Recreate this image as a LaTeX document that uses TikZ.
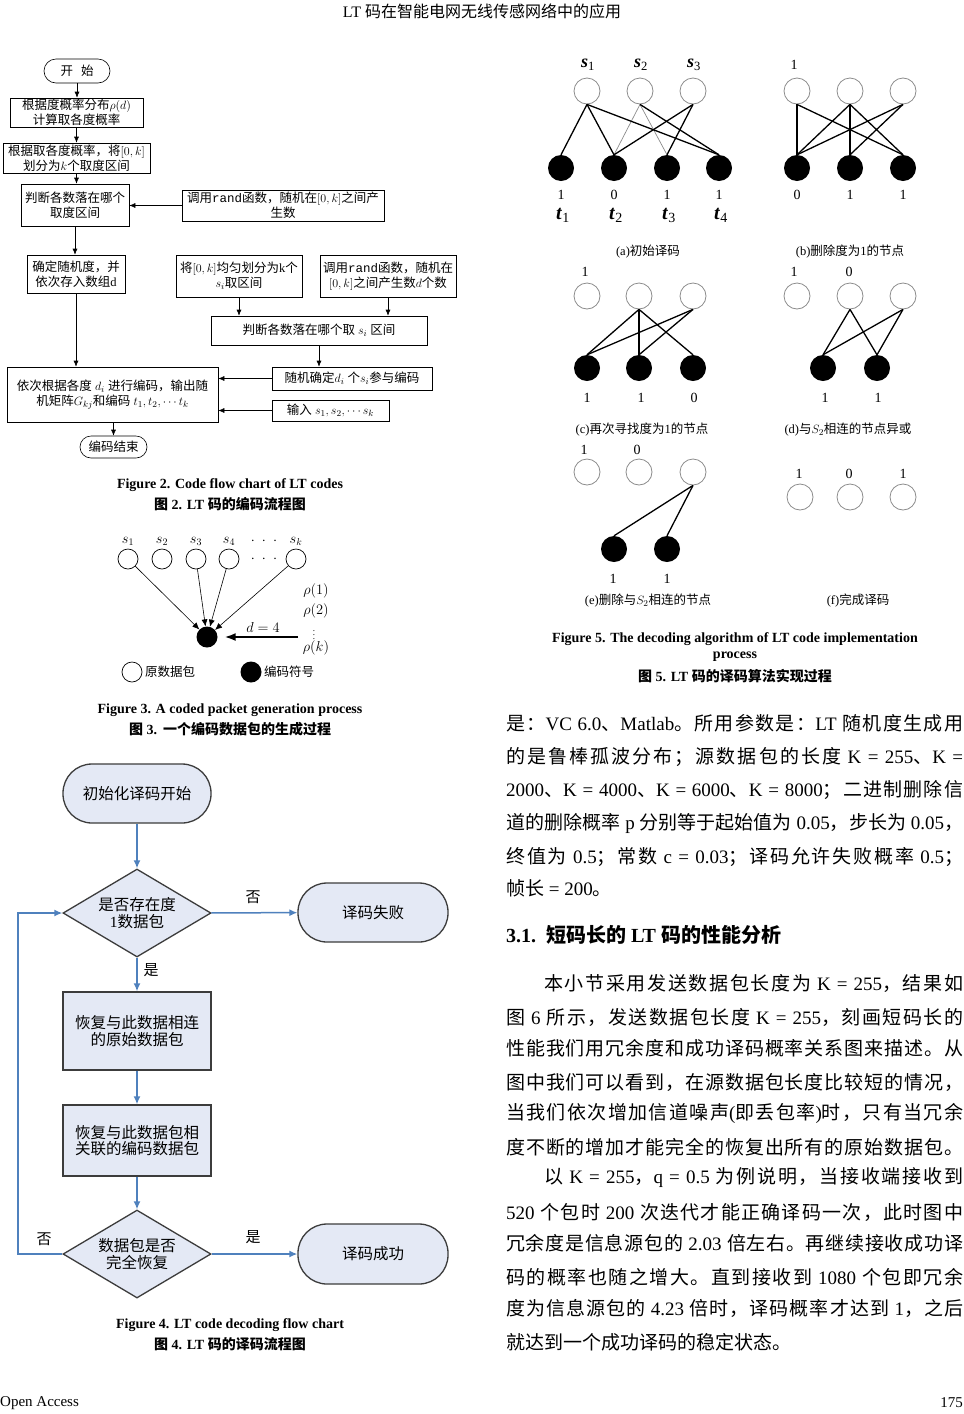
\documentclass[tikz,border=0pt]{standalone}
\usepackage{amsmath}
\usepackage{fontspec}
\setmainfont{Liberation Serif}
\setmonofont{Liberation Mono}
\newfontfamily\cjkfont{Noto Sans CJK SC}
\usetikzlibrary{arrows.meta,shapes.geometric}
\XeTeXinterchartokenstate=1
\newXeTeXintercharclass\CJKcls
\makeatletter
\def\setcjkrange#1#2{\count@=#1\relax
  \loop\XeTeXcharclass\count@=\CJKcls\relax
  \ifnum\count@<#2\relax\advance\count@\@ne\repeat}
\setcjkrange{"3000}{"303F}
\setcjkrange{"4E00}{"9FFF}
\setcjkrange{"FF00}{"FFEF}
\makeatother
\XeTeXinterchartoks 0 \CJKcls = {\begingroup\cjkfont}
\XeTeXinterchartoks 4095 \CJKcls = {\begingroup\cjkfont}
\XeTeXinterchartoks \CJKcls 0 = {\endgroup}
\XeTeXinterchartoks \CJKcls 4095 = {\endgroup}
\XeTeXinterchartoks \CJKcls \CJKcls = {\hskip0pt plus 3pt\relax}
\definecolor{gfill}{RGB}{228,233,245}
\definecolor{gline}{RGB}{60,60,60}
\definecolor{garrow}{RGB}{79,129,189}
\begin{document}
\begin{tikzpicture}[x=1pt,y=-1pt,
  fb/.style={draw,line width=0.6pt,fill=white,inner sep=1pt,align=center,font=\fontsize{12.5}{15}\selectfont},
  fa/.style={-{Latex[length=6pt,width=5pt]},line width=0.6pt},
  gb/.style={draw=gline,line width=1.3pt,fill=gfill,align=center,inner sep=0pt,font=\fontsize{15.5}{16.5}\selectfont},
  ga/.style={-{Latex[length=8pt,width=7pt]},draw=garrow,line width=1.5pt},
  glab/.style={inner sep=0pt,font=\fontsize{15}{16}\selectfont},
  on/.style={circle,draw=black!45,line width=0.8pt,minimum size=26pt,inner sep=0pt},
  bn/.style={circle,fill=black,minimum size=26pt,inner sep=0pt},
  ed/.style={line width=1.3pt},
  ged/.style={line width=0.7pt,draw=black!45},
  num/.style={inner sep=0pt,font=\fontsize{14}{16}\selectfont},
  cap5/.style={inner sep=0pt,font=\fontsize{12.5}{14}\selectfont},
  figcap/.style={inner sep=0pt,font=\fontsize{14}{16}\selectfont\bfseries},
  bt/.style={anchor=west,inner sep=0pt,font=\fontsize{19}{22}\selectfont},
  oc/.style={circle,draw,line width=0.7pt,minimum size=20pt,inner sep=0pt},
  fc/.style={circle,fill=black,minimum size=21pt,inner sep=0pt},
  f3a/.style={-{Latex[length=7pt,width=6pt]},line width=0.6pt}]
\useasboundingbox[fill=white] (0,0) rectangle (964,1414);

% header / footer
\node[inner sep=0pt,font=\fontsize{16}{18}\selectfont] (hdr) at (482,11) {LT 码在智能电网无线传感网络中的应用};
\node[anchor=west,inner sep=0pt,font=\fontsize{15}{17}\selectfont] (ftl) at (0,1403) {Open Access};
\node[anchor=east,inner sep=0pt,font=\fontsize{15}{17}\selectfont] (ftr) at (963,1403) {175};

% ===== Figure 2 =====
\node[fb,rounded corners=12pt,minimum width=66pt,minimum height=24pt] (b1) at (77,71) {开\hspace{8pt}始};
\node[fb,minimum width=133pt,minimum height=29pt] (b2) at (76.5,112.5) {根据度概率分布$\rho(d)$\\计算取各度概率};
\node[fb,minimum width=147pt,minimum height=30pt] (b3) at (76.5,158) {根据取各度概率，将$[0,k]$\\划分为$k$个取度区间};
\node[fb,minimum width=108pt,minimum height=42pt] (b4) at (75,205) {判断各数落在哪个\\取度区间};
\node[fb,minimum width=202pt,minimum height=31pt] (b5) at (283,205.5) {调用\texttt{rand}函数，随机在$[0,k]$之间产\\生数};
\node[fb,minimum width=98pt,minimum height=38pt] (b6) at (76,274) {确定随机度，并\\依次存入数组d};
\node[fb,minimum width=126pt,minimum height=42pt] (b7) at (239,276) {将$[0,k]$均匀划分为k个\\$s_i$取区间};
\node[fb,minimum width=136pt,minimum height=42pt] (b8) at (388,276) {调用\texttt{rand}函数，随机在\\$[0,k]$之间产生数$d$个数};
\node[fb,minimum width=216pt,minimum height=29pt] (b9) at (319,330.5) {判断各数落在哪个取 $s_i$ 区间};
\node[fb,minimum width=160pt,minimum height=23pt] (b10) at (352,378.5) {随机确定$d_i$ 个$s_i$参与编码};
\node[fb,minimum width=211pt,minimum height=55pt] (b11) at (112.5,394.5) {依次根据各度 $d_i$ 进行编码，输出随\\机矩阵$G_{kj}$和编码 $t_1,t_2,\cdots t_k$};
\node[fb,minimum width=117pt,minimum height=21pt] (b12) at (330.5,410.5) {输入 $s_1,s_2,\cdots s_k$};
\node[fb,rounded corners=11pt,minimum width=67pt,minimum height=22pt] (b13) at (113.5,447) {编码结束};

\draw[fa] (b1.south) -- (b1.south |- b2.north);
\draw[fa] (b2.south) -- (b2.south |- b3.north);
\draw[fa] (b3.south) -- (b3.south |- b4.north);
\draw[fa] (b5.west) -- (b5.west -| b4.east);
\draw[fa] (b4.south) -- (b4.south |- b6.north);
\draw[fa] (b7.south) -- (b7.south |- b9.north);
\draw[fa] (b8.south) -- (b8.south |- b9.north);
\draw[fa] (b9.south) -- (b9.south |- b10.north);
\draw[fa] (b10.west) -- (b10.west -| b11.east);
\draw[fa] (b12.west) -- (b12.west -| b11.east);
\draw[fa] (b6.south) -- (b6.south |- b11.north);
\draw[fa] (b13.north |- b11.south) -- (b13.north);

\node[figcap] (c2a) at (230,485) {Figure 2. Code flow chart of LT codes};
\node[figcap] (c2b) at (230,504) {图 2. LT 码的编码流程图};

% ===== Figure 3 =====
\foreach \n/\x/\l in {1/128/s_1,2/162/s_2,3/196/s_3,4/229/s_4,k/296/s_k}{
  \node[oc] (s\n) at (\x,559) {};
  \node[inner sep=0pt,font=\fontsize{14}{16}\selectfont] (sl\n) at (\x,541) {$\l$};
}
\node[inner sep=0pt,font=\fontsize{14}{14}\selectfont] (dt1) at (264,541) {$\cdot\;\cdot\;\cdot$};
\node[inner sep=0pt,font=\fontsize{14}{14}\selectfont] (dt2) at (264,559) {$\cdot\;\cdot\;\cdot$};
\node[fc] (cc) at (207,637) {};
\draw[f3a] (s1) -- (cc);
\draw[f3a] (s3) -- (cc);
\draw[f3a] (s4) -- (cc);
\draw[f3a] (sk) -- (cc);
\coordinate (dsrc) at (298,637);
\draw[-{Latex[length=11pt,width=8pt]},line width=1.8pt,shorten >=7pt] (dsrc) -- (cc);
\node[inner sep=0pt,font=\fontsize{14}{16}\selectfont] (dlab) at (263,627) {$d=4$};
\node[inner sep=0pt,font=\fontsize{15}{16}\selectfont] (r1) at (316,591) {$\rho(1)$};
\node[inner sep=0pt,font=\fontsize{15}{16}\selectfont] (r2) at (316,611) {$\rho(2)$};
\node[inner sep=0pt,font=\fontsize{9}{9}\selectfont] (r3) at (314,632) {$\vdots$};
\node[inner sep=0pt,font=\fontsize{15}{16}\selectfont] (r4) at (316,648) {$\rho(k)$};
\node[oc] (lg1) at (132,672) {};
\node[anchor=west,inner sep=0pt,font=\fontsize{12.5}{14}\selectfont] (lt1) at (145,672) {原数据包};
\node[fc] (lg2) at (251,672) {};
\node[anchor=west,inner sep=0pt,font=\fontsize{12.5}{14}\selectfont] (lt2) at (264,672) {编码符号};

\node[figcap] (c3a) at (230,710) {Figure 3. A coded packet generation process};
\node[figcap] (c3b) at (230,729) {图 3.\hspace{6pt}一个编码数据包的生成过程};

% ===== Figure 4 =====
\node[gb,rounded corners=29pt,minimum width=148pt,minimum height=59pt] (g1) at (137,793.5) {初始化译码开始};
\node[gb,diamond,aspect=1.68,minimum width=148pt,minimum height=88pt] (g2) at (137,913) {是否存在度\\1数据包};
\node[gb,rounded corners=29pt,minimum width=150pt,minimum height=59pt] (g3) at (373,912.5) {译码失败};
\node[gb,minimum width=148pt,minimum height=78pt] (g4) at (137,1031) {恢复与此数据相连\\的原始数据包};
\node[gb,minimum width=148pt,minimum height=71pt] (g5) at (137,1140.5) {恢复与此数据包相\\关联的编码数据包};
\node[gb,diamond,aspect=1.68,minimum width=148pt,minimum height=88pt] (g6) at (137,1254) {数据包是否\\完全恢复};
\node[gb,rounded corners=29pt,minimum width=150pt,minimum height=60pt] (g7) at (373,1254) {译码成功};
\draw[ga] (g1) -- (g2);
\draw[ga] (g2) -- (g3);
\draw[ga] (g2) -- (g4);
\draw[ga] (g4) -- (g5);
\draw[ga] (g5) -- (g6);
\draw[ga] (g6) -- (g7);
\coordinate (lp1) at (18,1254);
\coordinate (lp2) at (18,913);
\draw[ga] (g6.west) -- (lp1) -- (lp2) -- (g2.west);
\node[glab] (n1) at (253,897) {否};
\node[glab] (y1) at (151,970) {是};
\node[glab] (y2) at (253,1237) {是};
\node[glab] (n2) at (44,1239) {否};

\node[figcap] (c4a) at (230,1325) {Figure 4. LT code decoding flow chart};
\node[figcap] (c4b) at (230,1344) {图 4. LT 码的译码流程图};

% ===== Figure 5 =====
% (a)
\node[on] (as1) at (587,91) {};
\node[on] (as2) at (640,91) {};
\node[on] (as3) at (693,91) {};
\node[inner sep=0pt,font=\fontsize{18}{20}\selectfont] (asl1) at (588,65) {\textbf{\textit{s}}\textsubscript{1}};
\node[inner sep=0pt,font=\fontsize{18}{20}\selectfont] (asl2) at (641,65) {\textbf{\textit{s}}\textsubscript{2}};
\node[inner sep=0pt,font=\fontsize{18}{20}\selectfont] (asl3) at (694,65) {\textbf{\textit{s}}\textsubscript{3}};
\node[bn] (at1) at (561,168) {};
\node[bn] (at2) at (614,168) {};
\node[bn] (at3) at (667,168) {};
\node[bn] (at4) at (719,168) {};
\draw[ged] (as2.south) -- (at2.north);
\draw[ged] (as2.south) -- (at3.north);
\draw[ed] (as1.south) -- (at1.north);
\draw[ed] (as1.south) -- (at2.north);
\draw[ed] (as1.south) -- (at4.north);
\draw[ed] (as2.south) -- (at4.north);
\draw[ed] (as3.south) -- (at2.north);
\draw[ed] (as3.south) -- (at3.north);
\node[num] (av1) at (561,195) {1};
\node[num] (av2) at (614,195) {0};
\node[num] (av3) at (667,195) {1};
\node[num] (av4) at (719,195) {1};
\node[inner sep=0pt,font=\fontsize{20}{22}\selectfont] (atl1) at (563,215) {\textbf{\textit{t}}\textsubscript{1}};
\node[inner sep=0pt,font=\fontsize{20}{22}\selectfont] (atl2) at (616,215) {\textbf{\textit{t}}\textsubscript{2}};
\node[inner sep=0pt,font=\fontsize{20}{22}\selectfont] (atl3) at (669,215) {\textbf{\textit{t}}\textsubscript{3}};
\node[inner sep=0pt,font=\fontsize{20}{22}\selectfont] (atl4) at (721,215) {\textbf{\textit{t}}\textsubscript{4}};
\node[cap5] (capa) at (648,252) {(a)初始译码};
% (b)
\node[on] (bs1) at (797,91) {};
\node[on] (bs2) at (850,91) {};
\node[on] (bs3) at (903,91) {};
\node[num] (bsl1) at (794,65) {1};
\node[bn] (bt1) at (797,168) {};
\node[bn] (bt2) at (850,168) {};
\node[bn] (bt3) at (903,168) {};
\draw[ed] (bs1.south) -- (bt1.north);
\draw[ed] (bs1.south) -- (bt3.north);
\draw[ed] (bs2.south) -- (bt1.north);
\draw[ed] (bs2.south) -- (bt2.north);
\draw[ed] (bs2.south) -- (bt3.north);
\draw[ed] (bs3.south) -- (bt1.north);
\draw[ed] (bs3.south) -- (bt2.north);
\node[num] (bv1) at (797,195) {0};
\node[num] (bv2) at (850,195) {1};
\node[num] (bv3) at (903,195) {1};
\node[cap5] (capb) at (850,252) {(b)删除度为1的节点};
% (c)
\node[on] (cs1) at (587,296) {};
\node[on] (cs2) at (639,296) {};
\node[on] (cs3) at (693,296) {};
\node[num] (csl1) at (585,272) {1};
\node[bn] (ct1) at (587,368) {};
\node[bn] (ct2) at (639,368) {};
\node[bn] (ct3) at (693,368) {};
\draw[ed] (cs2.south) -- (ct1.north);
\draw[ed] (cs2.south) -- (ct2.north);
\draw[ed] (cs2.south) -- (ct3.north);
\draw[ed] (cs3.south) -- (ct1.north);
\draw[ed] (cs3.south) -- (ct2.north);
\node[num] (cv1) at (587,398) {1};
\node[num] (cv2) at (641,398) {1};
\node[num] (cv3) at (694,398) {0};
\node[cap5] (capc) at (642,430) {(c)再次寻找度为1的节点};
% (d)
\node[on] (ds1) at (797,296) {};
\node[on] (ds2) at (850,296) {};
\node[on] (ds3) at (903,296) {};
\node[num] (dsl1) at (794,272) {1};
\node[num] (dsl2) at (849,272) {0};
\node[bn] (dt1b) at (823,368) {};
\node[bn] (dt2b) at (877,368) {};
\draw[ed] (ds2.south) -- (dt1b.north);
\draw[ed] (ds2.south) -- (dt2b.north);
\draw[ed] (ds3.south) -- (dt1b.north);
\draw[ed] (ds3.south) -- (dt2b.north);
\node[num] (dv1) at (825,398) {1};
\node[num] (dv2) at (878,398) {1};
\node[cap5] (capd) at (848,430) {(d)与$S_2$相连的节点异或};
% (e)
\node[on] (es1) at (587,472) {};
\node[on] (es2) at (639,472) {};
\node[on] (es3) at (693,472) {};
\node[num] (esl1) at (584,450) {1};
\node[num] (esl2) at (637,450) {0};
\node[bn] (et1) at (614,549) {};
\node[bn] (et2) at (667,549) {};
\draw[ed] (es3.south) -- (et1.north);
\draw[ed] (es3.south) -- (et2.north);
\node[num] (ev1) at (613,579) {1};
\node[num] (ev2) at (667,579) {1};
\node[cap5] (cape) at (648,601) {(e)删除与$S_2$相连的节点};
% (f)
\node[on] (fs1) at (800,497) {};
\node[on] (fs2) at (850,497) {};
\node[on] (fs3) at (903,497) {};
\node[num] (fsl1) at (799,474) {1};
\node[num] (fsl2) at (849,474) {0};
\node[num] (fsl3) at (903,474) {1};
\node[cap5] (capf) at (858,601) {(f)完成译码};

\node[figcap] (c5a) at (735,639) {Figure 5. The decoding algorithm of LT code implementation};
\node[figcap] (c5b) at (735,657) {process};
\node[figcap] (c5c) at (735,676) {图 5. LT 码的译码算法实现过程};

% ===== Body text =====
\node[bt] (l1) at (506,723) {\makebox[457pt][s]{是：VC 6.0、Matlab。所用参数是：LT 随机度生成用}};
\node[bt] (l2) at (506,757) {\makebox[457pt][s]{的是鲁棒孤波分布；源数据包的长度 K = 255、K =}};
\node[bt] (l3) at (506,790) {\makebox[457pt][s]{2000、K = 4000、K = 6000、K = 8000；二进制删除信}};
\node[bt] (l4) at (506,823) {\makebox[457pt][s]{道的删除概率 p 分别等于起始值为 0.05，步长为 0.05，}};
\node[bt] (l5) at (506,857) {\makebox[457pt][s]{终值为 0.5；常数 c = 0.03；译码允许失败概率 0.5；}};
\node[bt] (l6) at (506,888) {帧长 = 200。};
\node[anchor=west,inner sep=0pt,font=\fontsize{20}{22}\selectfont\bfseries] (h31) at (506,935) {3.1.\hspace{10pt}短码长的 LT 码的性能分析};
\node[bt] (p1) at (506,983) {\makebox[457pt][s]{\hspace*{38pt}本小节采用发送数据包长度为 K = 255，结果如}};
\node[bt] (p2) at (506,1017) {\makebox[457pt][s]{图 6 所示，发送数据包长度 K = 255，刻画短码长的}};
\node[bt] (p3) at (506,1048) {\makebox[457pt][s]{性能我们用冗余度和成功译码概率关系图来描述。从}};
\node[bt] (p4) at (506,1082) {\makebox[457pt][s]{图中我们可以看到，在源数据包长度比较短的情况，}};
\node[bt] (p5) at (506,1113) {\makebox[457pt][s]{当我们依次增加信道噪声(即丢包率)时，只有当冗余}};
\node[bt] (p6) at (506,1147) {\makebox[457pt][s]{度不断的增加才能完全的恢复出所有的原始数据包。}};
\node[bt] (p7) at (506,1178) {\makebox[457pt][s]{\hspace*{38pt}以 K = 255，q = 0.5 为例说明，当接收端接收到}};
\node[bt] (p8) at (506,1212) {\makebox[457pt][s]{520 个包时 200 次迭代才能正确译码一次，此时图中}};
\node[bt] (p9) at (506,1243) {\makebox[457pt][s]{冗余度是信息源包的 2.03 倍左右。再继续接收成功译}};
\node[bt] (p10) at (506,1277) {\makebox[457pt][s]{码的概率也随之增大。直到接收到 1080 个包即冗余}};
\node[bt] (p11) at (506,1308) {\makebox[457pt][s]{度为信息源包的 4.23 倍时，译码概率才达到 1，之后}};
\node[bt] (p12) at (506,1342) {就达到一个成功译码的稳定状态。};
\end{tikzpicture}
\end{document}
